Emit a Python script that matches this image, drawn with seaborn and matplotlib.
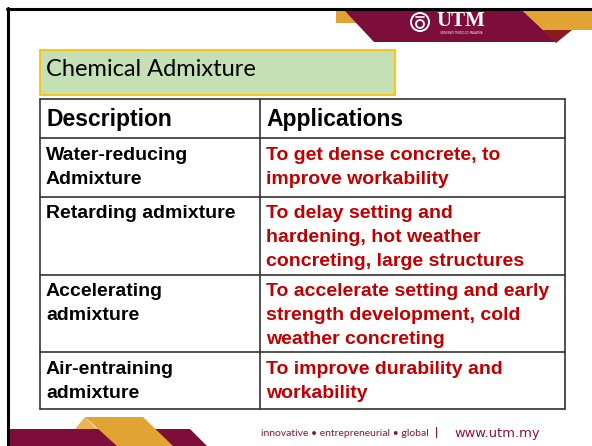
import matplotlib
matplotlib.use("Agg")
import matplotlib.pyplot as plt
from matplotlib.patches import Polygon, Rectangle, Circle
import seaborn as sns

# slide content
title = "Chemical Admixture"
headers = ["Description", "Applications"]
descriptions = ["Water-reducing\nAdmixture",
                "Retarding admixture",
                "Accelerating\nadmixture",
                "Air-entraining\nadmixture"]
applications = ["To get dense concrete, to\nimprove workability",
                "To delay setting and\nhardening, hot weather\nconcreting, large structures",
                "To accelerate setting and early\nstrength development, cold\nweather concreting",
                "To improve durability and\nworkability"]
footer_left = "innovative \u2022 entrepreneurial \u2022 global"
footer_url = "www.utm.my"

# layout in pixels
W, H = 592, 446
row_edges = [99, 138, 197, 275, 352, 409]
col_edges = [40, 260, 565]
line_gap = 24

MAROON = "#7d0e3b"
GOLD = "#e1a433"
DARKRED = "#8a1a1e"
RED = "#c00000"

sns.set_theme(style="white")

fig = plt.figure(figsize=(W / 100, H / 100), dpi=100)
ax = fig.add_axes([0, 0, 1, 1])
ax.set_xlim(0, W)
ax.set_ylim(H, 0)
ax.axis("off")

# frame
ax.plot([8, 8], [8, H], color="black", lw=2.2)
ax.plot([7, W], [9, 9], color="black", lw=2.2)

# top banner
ax.add_patch(Polygon([(336, 10), (344, 10), (357, 23), (336, 23)], color=GOLD, lw=0))
ax.add_patch(Polygon([(344, 10), (522, 10), (556, 42), (374, 42)], color=MAROON, lw=0))
ax.add_patch(Polygon([(522, 10), (592, 10), (592, 30), (543, 30)], color=GOLD, lw=0))
ax.add_patch(Polygon([(543, 30), (572, 30), (556, 43)], color=DARKRED, lw=0))
ax.add_patch(Circle((420, 22), 9, fill=False, ec="white", lw=1.4))
ax.add_patch(Circle((420, 24), 4, fill=False, ec="white", lw=1.3))
ax.plot([416, 424], [17, 17], color="white", lw=1.2)
ax.text(436, 21, "UTM", color="white", fontsize=15, fontweight="bold",
        family="Liberation Serif", va="center", ha="left")
ax.text(461, 33, "UNIVERSITI TEKNOLOGI MALAYSIA", color="white", fontsize=1.8,
        va="center", ha="center")

# title box
ax.add_patch(Rectangle((40, 50), 355, 45, fc="#c5e0b4", ec="#ffc000", lw=1.3))
ax.text(46, 69, title, fontsize=17, family="Lato", va="center", ha="left", color="black")

# table
for y in row_edges:
    ax.plot([col_edges[0], col_edges[-1]], [y, y], color="#333333", lw=1.2)
for x in col_edges:
    ax.plot([x, x], [row_edges[0], row_edges[-1]], color="#333333", lw=1.2)

for j, h in enumerate(headers):
    ax.text(col_edges[j] + 6, (row_edges[0] + row_edges[1]) / 2 + 1, h, fontsize=16.5,
            fontweight="bold", family="Liberation Sans", va="center", ha="left", color="black")

for i, (d, a) in enumerate(zip(descriptions, applications)):
    top = row_edges[i + 1] + 17
    for k, line in enumerate(d.split("\n")):
        ax.text(col_edges[0] + 6, top + k * line_gap, line, fontsize=14, fontweight="bold",
                family="Liberation Sans", va="center", ha="left", color="black")
    for k, line in enumerate(a.split("\n")):
        ax.text(col_edges[1] + 6, top + k * line_gap, line, fontsize=14, fontweight="bold",
                family="Liberation Sans", va="center", ha="left", color=RED)

# bottom decoration
ax.add_patch(Polygon([(10, 429), (190, 429), (207, 446), (10, 446)], color=MAROON, lw=0))
ax.add_patch(Polygon([(85, 417), (143, 417), (173, 446), (117, 446)], color=GOLD, lw=0))
ax.add_patch(Polygon([(75, 429), (85, 417), (97, 429)], color="#e8b550", lw=0))

# footer
ax.text(261, 434, footer_left, fontsize=7.5, family="Lato", color="#8a1538", va="center", ha="left")
ax.text(437, 433, "|", fontsize=8.5, family="Lato", fontweight="bold", color="#8a1538",
        va="center", ha="center")
ax.text(454, 434, footer_url, fontsize=9.4, family="DejaVu Sans", color="#8a1538",
        va="center", ha="left")

fig.savefig("out.png", dpi=100)
